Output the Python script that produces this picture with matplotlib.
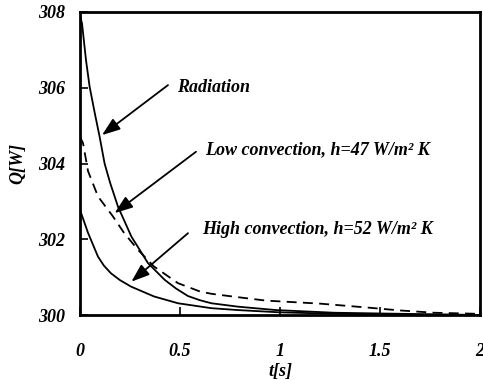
import matplotlib
matplotlib.use("Agg")
import matplotlib.pyplot as plt

# Radiation curve
t_rad = [0.0, 0.01, 0.03, 0.048, 0.075, 0.098, 0.123, 0.15, 0.19, 0.257, 0.34, 0.423, 0.48, 0.54, 0.6, 0.657, 0.79, 0.98, 1.27, 1.5, 1.75, 2.0]
q_rad = [307.9, 307.7, 306.73, 306.03, 305.3, 304.71, 304.0, 303.5, 302.86, 302.07, 301.37, 300.93, 300.7, 300.5, 300.39, 300.31, 300.22, 300.13, 300.06, 300.04, 300.02, 300.0]

# Low convection (dashed)
t_low = [0.0, 0.015, 0.04, 0.09, 0.165, 0.22, 0.29, 0.37, 0.49, 0.6, 0.657, 0.79, 0.93, 1.2, 1.43, 1.6, 1.77, 2.0]
q_low = [304.7, 304.54, 303.8, 303.13, 302.6, 302.17, 301.72, 301.28, 300.84, 300.62, 300.56, 300.47, 300.38, 300.3, 300.2, 300.12, 300.06, 300.03]

# High convection
t_high = [0.0, 0.005, 0.04, 0.09, 0.12, 0.155, 0.2, 0.255, 0.37, 0.49, 0.657, 0.79, 1.0, 1.3, 1.6, 2.0]
q_high = [302.8, 302.7, 302.17, 301.54, 301.3, 301.1, 300.92, 300.75, 300.49, 300.31, 300.18, 300.13, 300.07, 300.03, 300.01, 300.0]

x_ticks = [0, 0.5, 1, 1.5, 2]
x_tick_labels = ["0", "0.5", "1", "1.5", "2"]
y_ticks = [300, 302, 304, 306, 308]
y_tick_labels = ["300", "302", "304", "306", "308"]

font = dict(family="Liberation Serif", weight="bold", style="italic")

fig = plt.figure(figsize=(4.83, 3.80), dpi=100)
ax = fig.add_axes([80 / 483, 65 / 380, 400 / 483, 303 / 380])

ax.plot(t_rad, q_rad, color="black", lw=1.3)
ax.plot(t_low, q_low, color="black", lw=1.3, ls=(0, (5.5, 3.5)))
ax.plot(t_high, q_high, color="black", lw=1.3)

ax.set_xlim(0, 2)
ax.set_ylim(300, 308)
ax.set_xticks(x_ticks)
ax.set_xticklabels(x_tick_labels, fontsize=13, **font)
ax.set_yticks(y_ticks)
ax.set_yticklabels(y_tick_labels, fontsize=13, **font)
ax.tick_params(axis="both", direction="in", length=6, width=1.2, top=False, right=False)
ax.tick_params(axis="x", pad=20)
ax.tick_params(axis="y", pad=11)
for s in ax.spines.values():
    s.set_linewidth(2.0)

ax.set_xlabel("t[s]", fontsize=13, labelpad=2, **font)
ax.set_ylabel("Q[W]", fontsize=13, labelpad=8, **font)

arrow = dict(arrowstyle="-|>,head_length=1.1,head_width=0.4", color="black", lw=1.3, shrinkA=0, shrinkB=0)
ax.annotate("", xy=(0.11, 304.75), xytext=(0.44, 306.07), arrowprops=arrow)
ax.annotate("", xy=(0.173, 302.69), xytext=(0.58, 304.31), arrowprops=arrow)
ax.annotate("", xy=(0.257, 300.88), xytext=(0.54, 302.16), arrowprops=arrow)

ax.text(0.485, 306.0, "Radiation", fontsize=13, va="center", ha="left", **font)
ax.text(0.625, 304.36, "Low convection, h=47 W/m² K", fontsize=13, va="center", ha="left", **font)
ax.text(0.61, 302.25, "High convection, h=52 W/m² K", fontsize=13, va="center", ha="left", **font)

fig.savefig("out.png", dpi=100)
